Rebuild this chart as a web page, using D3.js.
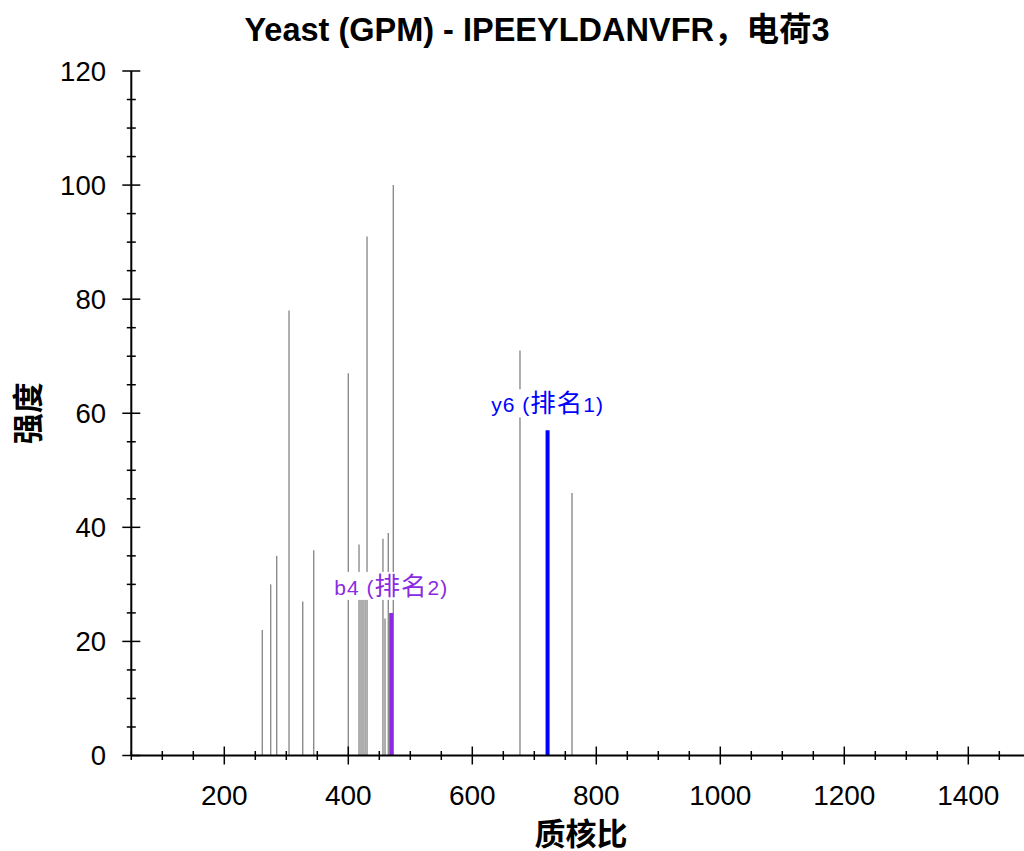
<!DOCTYPE html>
<html>
<head>
<meta charset="utf-8">
<script src="https://cdn.jsdelivr.net/npm/d3@7"></script>
<style>
  body { margin: 0; background: #fff; }
</style>
</head>
<body>
<div id="chart"></div>
<script>
// peaks
const mzValues = [261.3, 274.8, 284.5, 304.4, 326.5, 344.2, 400.0, 417.3, 420.5, 423.7, 427.0, 430.2, 455.9, 459.2, 464.5, 472.6, 676.9, 760.8];
const intensities = [22, 30, 35, 78, 27, 36, 67, 37, 28, 28, 28, 91, 38, 24, 39, 100, 71, 46];

// matched fragment ions
const ionNames = ["y6", "b4"];
const ionRanks = [1, 2];
const ionMz = [721.4, 469.2];
const ionIntensities = [57, 25];
const ionColors = ["#0000ff", "#8a2be2"];

const xTicks = [200, 400, 600, 800, 1000, 1200, 1400];
const yTicks = [0, 20, 40, 60, 80, 100, 120];

const width = 1024;
const height = 851;
const font = "'Liberation Sans', Arial, 'Noto Sans CJK SC', sans-serif";

const svg = d3.select("#chart").append("svg")
  .attr("width", width)
  .attr("height", height)
  .style("font-family", font);

const x = d3.scaleLinear().domain([50, 1490]).range([131.3, 1024.1]);
const y = d3.scaleLinear().domain([0, 120]).range([755.5, 71]);

// axes: major ticks cross the line, minor ticks are shorter
function drawXAxis() {
  const g = svg.append("g");
  g.append("line")
    .attr("x1", x.range()[0]).attr("x2", width)
    .attr("y1", y(0)).attr("y2", y(0))
    .attr("stroke", "#000").attr("stroke-width", 2);
  const minor = d3.range(50, 1500, 50).filter(v => v % 200 !== 0);
  g.selectAll(".minor").data(minor).join("line")
    .attr("x1", d => x(d)).attr("x2", d => x(d))
    .attr("y1", y(0) - 4.5).attr("y2", y(0) + 4.5)
    .attr("stroke", "#000").attr("stroke-width", 1.5);
  g.selectAll(".major").data(xTicks).join("line")
    .attr("x1", d => x(d)).attr("x2", d => x(d))
    .attr("y1", y(0) - 9).attr("y2", y(0) + 9)
    .attr("stroke", "#000").attr("stroke-width", 1.5);
  g.selectAll("text").data(xTicks).join("text")
    .attr("x", d => x(d)).attr("y", 805)
    .attr("text-anchor", "middle")
    .style("font-size", "28px")
    .text(d => d);
}

function drawYAxis() {
  const g = svg.append("g");
  g.append("line")
    .attr("x1", x(50)).attr("x2", x(50))
    .attr("y1", y(120)).attr("y2", y(0))
    .attr("stroke", "#000").attr("stroke-width", 2);
  const minor = d3.range(0, 121, 5).filter(v => v % 20 !== 0);
  g.selectAll(".minor").data(minor).join("line")
    .attr("x1", x(50) - 4.5).attr("x2", x(50) + 4.5)
    .attr("y1", d => y(d)).attr("y2", d => y(d))
    .attr("stroke", "#000").attr("stroke-width", 1.5);
  g.selectAll(".major").data(yTicks).join("line")
    .attr("x1", x(50) - 9).attr("x2", x(50) + 9)
    .attr("y1", d => y(d)).attr("y2", d => y(d))
    .attr("stroke", "#000").attr("stroke-width", 1.5);
  g.selectAll("text").data(yTicks).join("text")
    .attr("x", 106).attr("y", d => y(d))
    .attr("dy", "0.36em")
    .attr("text-anchor", "end")
    .style("font-size", "27.5px")
    .text(d => d);
}

// unmatched peaks
svg.append("g")
  .selectAll("line")
  .data(mzValues)
  .join("line")
    .attr("x1", d => x(d)).attr("x2", d => x(d))
    .attr("y1", y(0))
    .attr("y2", (d, i) => y(intensities[i]))
    .attr("stroke", "#8c8c8c")
    .attr("stroke-width", 1.4);

// matched peaks
svg.append("g")
  .selectAll("line")
  .data(ionMz)
  .join("line")
    .attr("x1", d => x(d)).attr("x2", d => x(d))
    .attr("y1", y(0))
    .attr("y2", (d, i) => y(ionIntensities[i]))
    .attr("stroke", (d, i) => ionColors[i])
    .attr("stroke-width", 4);

drawXAxis();
drawYAxis();

// ion labels with white boxes behind; the CJK part is drawn a little larger
ionMz.forEach((mz, i) => {
  const g = svg.append("g");
  const rect = g.append("rect").attr("fill", "#fff");
  const t = g.append("text")
    .attr("x", x(mz))
    .attr("y", y(ionIntensities[i]) - 18)
    .attr("text-anchor", "middle")
    .style("font-size", "21px")
    .style("letter-spacing", "1px")
    .style("fill", ionColors[i]);
  t.append("tspan").text(ionNames[i] + " (");
  t.append("tspan").style("font-size", "25.5px").text("排名");
  t.append("tspan").text(ionRanks[i] + ")");
  const b = t.node().getBBox();
  rect.attr("x", b.x - 3).attr("y", b.y)
    .attr("width", b.width + 6).attr("height", b.height);
});

svg.append("text")
  .attr("x", 537).attr("y", 41)
  .attr("text-anchor", "middle")
  .style("font-size", "32.5px")
  .style("font-weight", "700")
  .text("Yeast (GPM) - IPEEYLDANVFR，电荷3");

svg.append("text")
  .attr("x", 581).attr("y", 845)
  .attr("text-anchor", "middle")
  .style("font-size", "31px")
  .style("font-weight", "700")
  .text("质核比");

svg.append("text")
  .attr("transform", `translate(39, ${y(60)}) rotate(-90)`)
  .attr("text-anchor", "middle")
  .style("font-size", "31px")
  .style("font-weight", "700")
  .text("强度");
</script>
</body>
</html>
